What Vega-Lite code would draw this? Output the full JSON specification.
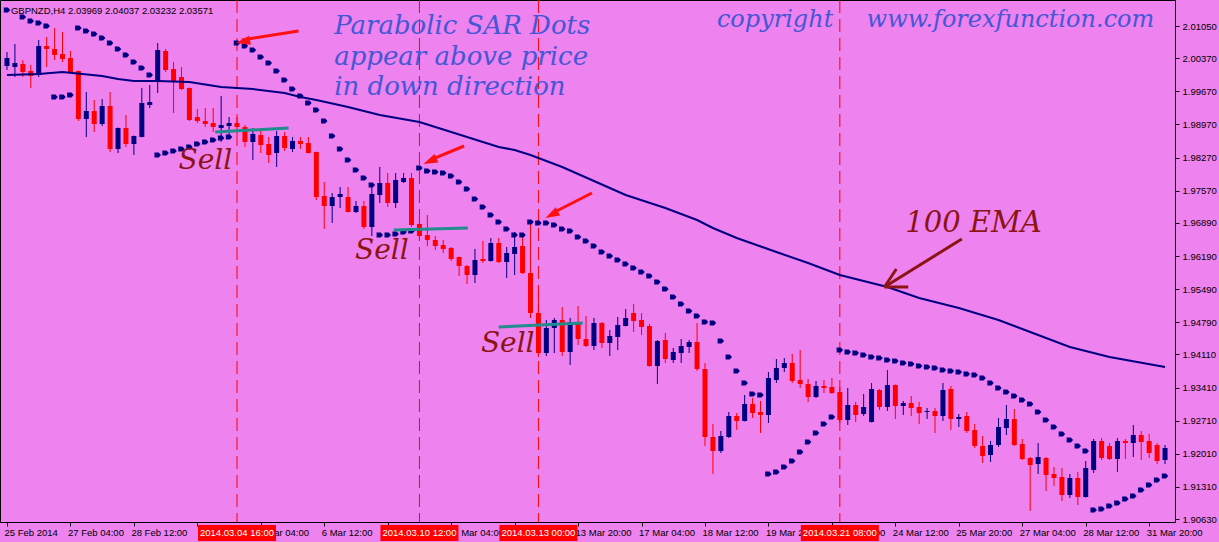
{
"$schema":"https://vega.github.io/schema/vega-lite/v6.json",
"width":1175,"height":522,
"autosize":{"type":"none"},
"padding":{"left":0,"top":0,"right":44,"bottom":20},
"background":"#EE82EE",
"config":{"view":{"stroke":"#000000","strokeWidth":1,"fill":"#EE82EE"},"axis":{"labelOverlap":false,"labelSeparation":0}},
"datasets":{
"candles":[
{"i":0,"o":2.00205,"h":2.00501,"l":2.00121,"c":2.00374},
{"i":1,"o":2.00184,"h":2.00670,"l":1.99973,"c":2.00269},
{"i":2,"o":2.00248,"h":2.00332,"l":1.99973,"c":2.00079},
{"i":3,"o":2.00100,"h":2.00227,"l":1.99741,"c":1.99994},
{"i":4,"o":2.00015,"h":2.00755,"l":1.99973,"c":2.00628},
{"i":5,"o":2.00628,"h":2.00818,"l":2.00184,"c":2.00565},
{"i":6,"o":2.00565,"h":2.01008,"l":2.00332,"c":2.00438},
{"i":7,"o":2.00459,"h":2.00924,"l":2.00290,"c":2.00353},
{"i":8,"o":2.00374,"h":2.00522,"l":2.00070,"c":2.00079},
{"i":9,"o":2.00100,"h":2.00110,"l":1.99043,"c":1.99086},
{"i":10,"o":1.99086,"h":1.99656,"l":1.98705,"c":1.99255},
{"i":11,"o":1.99255,"h":1.99487,"l":1.98811,"c":1.98980},
{"i":12,"o":1.98980,"h":1.99508,"l":1.98938,"c":1.99360},
{"i":13,"o":1.99360,"h":1.99656,"l":1.98388,"c":1.98452},
{"i":14,"o":1.98452,"h":1.98905,"l":1.98367,"c":1.98895},
{"i":15,"o":1.98895,"h":1.99170,"l":1.98494,"c":1.98557},
{"i":16,"o":1.98557,"h":1.98735,"l":1.98325,"c":1.98726},
{"i":17,"o":1.98705,"h":1.99741,"l":1.98695,"c":1.99424},
{"i":18,"o":1.99381,"h":1.99804,"l":1.99318,"c":1.99445},
{"i":19,"o":1.99867,"h":2.00691,"l":1.99635,"c":2.00543},
{"i":20,"o":2.00522,"h":2.00565,"l":2.00079,"c":2.00121},
{"i":21,"o":2.00142,"h":2.00290,"l":1.99212,"c":1.99867},
{"i":22,"o":1.99973,"h":2.00184,"l":1.99698,"c":1.99719},
{"i":23,"o":1.99741,"h":1.99750,"l":1.99043,"c":1.99064},
{"i":24,"o":1.99128,"h":1.99297,"l":1.99001,"c":1.99043},
{"i":25,"o":1.99043,"h":1.99318,"l":1.98916,"c":1.98980},
{"i":26,"o":1.99001,"h":1.99318,"l":1.98811,"c":1.98916},
{"i":27,"o":1.98895,"h":1.99572,"l":1.98600,"c":1.98959},
{"i":28,"o":1.98938,"h":1.99128,"l":1.98705,"c":1.99001},
{"i":29,"o":1.99001,"h":1.99128,"l":1.98790,"c":1.98916},
{"i":30,"o":1.98916,"h":1.98959,"l":1.98494,"c":1.98600},
{"i":31,"o":1.98600,"h":1.98895,"l":1.98219,"c":1.98769},
{"i":32,"o":1.98747,"h":1.98832,"l":1.98367,"c":1.98536},
{"i":33,"o":1.98557,"h":1.98705,"l":1.98156,"c":1.98325},
{"i":34,"o":1.98367,"h":1.98832,"l":1.98071,"c":1.98726},
{"i":35,"o":1.98726,"h":1.98811,"l":1.98409,"c":1.98473},
{"i":36,"o":1.98452,"h":1.98705,"l":1.98388,"c":1.98621},
{"i":37,"o":1.98621,"h":1.98705,"l":1.98452,"c":1.98557},
{"i":38,"o":1.98578,"h":1.98705,"l":1.98360,"c":1.98367},
{"i":39,"o":1.98388,"h":1.98395,"l":1.97374,"c":1.97437},
{"i":40,"o":1.97459,"h":1.97754,"l":1.96761,"c":1.97247},
{"i":41,"o":1.97247,"h":1.97522,"l":1.96888,"c":1.97437},
{"i":42,"o":1.97437,"h":1.97649,"l":1.97205,"c":1.97501},
{"i":43,"o":1.97437,"h":1.97649,"l":1.97110,"c":1.97120},
{"i":44,"o":1.97120,"h":1.97353,"l":1.97099,"c":1.97247},
{"i":45,"o":1.97247,"h":1.97353,"l":1.96761,"c":1.96803},
{"i":46,"o":1.96803,"h":1.97733,"l":1.96613,"c":1.97501},
{"i":47,"o":1.97480,"h":1.98071,"l":1.97311,"c":1.97733},
{"i":48,"o":1.97733,"h":1.97945,"l":1.97226,"c":1.97311},
{"i":49,"o":1.97311,"h":1.97945,"l":1.97205,"c":1.97797},
{"i":50,"o":1.97754,"h":1.97945,"l":1.97733,"c":1.97839},
{"i":51,"o":1.97839,"h":1.97945,"l":1.96803,"c":1.96846},
{"i":52,"o":1.96867,"h":1.96951,"l":1.96571,"c":1.96613},
{"i":53,"o":1.96634,"h":1.97057,"l":1.96402,"c":1.96529},
{"i":54,"o":1.96529,"h":1.96613,"l":1.96317,"c":1.96402},
{"i":55,"o":1.96423,"h":1.96529,"l":1.96254,"c":1.96339},
{"i":56,"o":1.96360,"h":1.96381,"l":1.96085,"c":1.96127},
{"i":57,"o":1.96170,"h":1.96180,"l":1.95768,"c":1.95979},
{"i":58,"o":1.95979,"h":1.96001,"l":1.95599,"c":1.95789},
{"i":59,"o":1.95789,"h":1.96339,"l":1.95620,"c":1.96106},
{"i":60,"o":1.96127,"h":1.96508,"l":1.96043,"c":1.96085},
{"i":61,"o":1.96085,"h":1.96571,"l":1.96075,"c":1.96465},
{"i":62,"o":1.96465,"h":1.96571,"l":1.96043,"c":1.96064},
{"i":63,"o":1.96064,"h":1.96381,"l":1.95726,"c":1.96254},
{"i":64,"o":1.96233,"h":1.96698,"l":1.95789,"c":1.96381},
{"i":65,"o":1.96402,"h":1.96592,"l":1.95810,"c":1.95832},
{"i":66,"o":1.95832,"h":1.96888,"l":1.94881,"c":1.94986},
{"i":67,"o":1.94986,"h":1.95451,"l":1.94057,"c":1.94141},
{"i":68,"o":1.94141,"h":1.94838,"l":1.94078,"c":1.94669},
{"i":69,"o":1.94669,"h":1.94881,"l":1.94141,"c":1.94838},
{"i":70,"o":1.94838,"h":1.95113,"l":1.94078,"c":1.94162},
{"i":71,"o":1.94162,"h":1.94881,"l":1.93888,"c":1.94796},
{"i":72,"o":1.94796,"h":1.95134,"l":1.94310,"c":1.94437},
{"i":73,"o":1.94437,"h":1.94923,"l":1.94268,"c":1.94289},
{"i":74,"o":1.94289,"h":1.94881,"l":1.94204,"c":1.94775},
{"i":75,"o":1.94775,"h":1.94796,"l":1.94247,"c":1.94352},
{"i":76,"o":1.94352,"h":1.94627,"l":1.94078,"c":1.94500},
{"i":77,"o":1.94479,"h":1.94902,"l":1.94204,"c":1.94733},
{"i":78,"o":1.94712,"h":1.95071,"l":1.94702,"c":1.94881},
{"i":79,"o":1.94986,"h":1.95176,"l":1.94585,"c":1.94817},
{"i":80,"o":1.94838,"h":1.94986,"l":1.94521,"c":1.94690},
{"i":81,"o":1.94712,"h":1.94754,"l":1.93845,"c":1.93866},
{"i":82,"o":1.93866,"h":1.94416,"l":1.93486,"c":1.94395},
{"i":83,"o":1.94416,"h":1.94564,"l":1.93930,"c":1.94014},
{"i":84,"o":1.93993,"h":1.94247,"l":1.93930,"c":1.94162},
{"i":85,"o":1.94141,"h":1.94437,"l":1.93930,"c":1.94289},
{"i":86,"o":1.94268,"h":1.94416,"l":1.94141,"c":1.94374},
{"i":87,"o":1.94374,"h":1.94775,"l":1.93761,"c":1.93803},
{"i":88,"o":1.93803,"h":1.93930,"l":1.92176,"c":1.92366},
{"i":89,"o":1.92366,"h":1.92641,"l":1.91584,"c":1.92070},
{"i":90,"o":1.92070,"h":1.92493,"l":1.92028,"c":1.92387},
{"i":91,"o":1.92366,"h":1.92894,"l":1.92345,"c":1.92810},
{"i":92,"o":1.92810,"h":1.92873,"l":1.92514,"c":1.92704},
{"i":93,"o":1.92704,"h":1.93254,"l":1.92694,"c":1.93063},
{"i":94,"o":1.93063,"h":1.93190,"l":1.92768,"c":1.92873},
{"i":95,"o":1.92894,"h":1.93127,"l":1.92451,"c":1.92831},
{"i":96,"o":1.92831,"h":1.93740,"l":1.92662,"c":1.93613},
{"i":97,"o":1.93571,"h":1.94014,"l":1.93507,"c":1.93824},
{"i":98,"o":1.93824,"h":1.94035,"l":1.93740,"c":1.93930},
{"i":99,"o":1.93930,"h":1.94120,"l":1.93507,"c":1.93549},
{"i":100,"o":1.93571,"h":1.94204,"l":1.93402,"c":1.93486},
{"i":101,"o":1.93486,"h":1.93592,"l":1.93106,"c":1.93211},
{"i":102,"o":1.93211,"h":1.93549,"l":1.93190,"c":1.93444},
{"i":103,"o":1.93444,"h":1.93571,"l":1.93296,"c":1.93402},
{"i":104,"o":1.93423,"h":1.93613,"l":1.93275,"c":1.93296},
{"i":105,"o":1.93317,"h":1.93423,"l":1.92662,"c":1.92725},
{"i":106,"o":1.92725,"h":1.93402,"l":1.92620,"c":1.93042},
{"i":107,"o":1.93042,"h":1.93106,"l":1.92683,"c":1.92831},
{"i":108,"o":1.92852,"h":1.93275,"l":1.92810,"c":1.93000},
{"i":109,"o":1.92683,"h":1.93507,"l":1.92673,"c":1.93380},
{"i":110,"o":1.93359,"h":1.93380,"l":1.92937,"c":1.93000},
{"i":111,"o":1.93000,"h":1.93782,"l":1.92916,"c":1.93465},
{"i":112,"o":1.93465,"h":1.93475,"l":1.92747,"c":1.93021},
{"i":113,"o":1.93021,"h":1.93127,"l":1.92831,"c":1.93085},
{"i":114,"o":1.93085,"h":1.93233,"l":1.92810,"c":1.92979},
{"i":115,"o":1.93000,"h":1.93106,"l":1.92641,"c":1.92873},
{"i":116,"o":1.92894,"h":1.92979,"l":1.92747,"c":1.92916},
{"i":117,"o":1.92916,"h":1.92979,"l":1.92451,"c":1.92810},
{"i":118,"o":1.92810,"h":1.93507,"l":1.92704,"c":1.93359},
{"i":119,"o":1.93380,"h":1.93444,"l":1.92514,"c":1.92747},
{"i":120,"o":1.92747,"h":1.92852,"l":1.92577,"c":1.92789},
{"i":121,"o":1.92810,"h":1.92894,"l":1.92451,"c":1.92493},
{"i":122,"o":1.92514,"h":1.92641,"l":1.92134,"c":1.92176},
{"i":123,"o":1.92176,"h":1.92387,"l":1.91817,"c":1.91965},
{"i":124,"o":1.91986,"h":1.92282,"l":1.91838,"c":1.92197},
{"i":125,"o":1.92197,"h":1.92768,"l":1.92155,"c":1.92577},
{"i":126,"o":1.92556,"h":1.93042,"l":1.92408,"c":1.92747},
{"i":127,"o":1.92747,"h":1.92958,"l":1.92176,"c":1.92197},
{"i":128,"o":1.92218,"h":1.92324,"l":1.91880,"c":1.91901},
{"i":129,"o":1.91922,"h":1.91944,"l":1.90803,"c":1.91775},
{"i":130,"o":1.91796,"h":1.92239,"l":1.91584,"c":1.91944},
{"i":131,"o":1.91922,"h":1.91944,"l":1.91225,"c":1.91563},
{"i":132,"o":1.91584,"h":1.91732,"l":1.91331,"c":1.91500},
{"i":133,"o":1.91521,"h":1.91711,"l":1.91014,"c":1.91141},
{"i":134,"o":1.91141,"h":1.91584,"l":1.91077,"c":1.91500},
{"i":135,"o":1.91500,"h":1.91627,"l":1.90929,"c":1.91098},
{"i":136,"o":1.91098,"h":1.91859,"l":1.91088,"c":1.91711},
{"i":137,"o":1.91669,"h":1.92324,"l":1.91606,"c":1.92282},
{"i":138,"o":1.92282,"h":1.92345,"l":1.91880,"c":1.91922},
{"i":139,"o":1.92176,"h":1.92239,"l":1.91880,"c":1.91901},
{"i":140,"o":1.91901,"h":1.92345,"l":1.91627,"c":1.92282},
{"i":141,"o":1.92282,"h":1.92324,"l":1.91901,"c":1.92239},
{"i":142,"o":1.92239,"h":1.92620,"l":1.91944,"c":1.92408},
{"i":143,"o":1.92408,"h":1.92493,"l":1.91880,"c":1.92261},
{"i":144,"o":1.92282,"h":1.92430,"l":1.91922,"c":1.92028},
{"i":145,"o":1.92197,"h":1.92239,"l":1.91796,"c":1.91859},
{"i":146,"o":1.91880,"h":1.92197,"l":1.91796,"c":1.92134}
],
"sar":[
{"i":0,"v":2.01389},{"i":2,"v":2.01241},{"i":3,"v":2.01156},{"i":4,"v":2.01114},{"i":5,"v":2.01051},
{"i":6,"v":1.99550},{"i":7,"v":1.99550},{"i":8,"v":1.99593},
{"i":9,"v":2.01008},{"i":10,"v":2.00945},{"i":11,"v":2.00882},{"i":12,"v":2.00797},{"i":13,"v":2.00691},{"i":14,"v":2.00565},{"i":15,"v":2.00438},{"i":16,"v":2.00290},{"i":17,"v":2.00163},{"i":18,"v":2.00015},
{"i":19,"v":1.98325},{"i":20,"v":1.98367},{"i":21,"v":1.98409},{"i":22,"v":1.98452},{"i":23,"v":1.98494},{"i":24,"v":1.98557},{"i":25,"v":1.98600},{"i":26,"v":1.98642},{"i":27,"v":1.98684},{"i":28,"v":1.98705},
{"i":29,"v":2.00691},{"i":30,"v":2.00628},{"i":31,"v":2.00543},{"i":32,"v":2.00396},{"i":33,"v":2.00269},{"i":34,"v":2.00100},{"i":35,"v":1.99910},{"i":36,"v":1.99719},{"i":37,"v":1.99572},{"i":38,"v":1.99424},{"i":39,"v":1.99276},{"i":40,"v":1.99043},{"i":41,"v":1.98726},{"i":42,"v":1.98452},{"i":43,"v":1.98219},{"i":44,"v":1.98008},{"i":45,"v":1.97839},{"i":46,"v":1.97691},
{"i":47,"v":1.96634},{"i":48,"v":1.96634},{"i":49,"v":1.96656},{"i":50,"v":1.96698},{"i":51,"v":1.96719},
{"i":52,"v":1.98050},{"i":53,"v":1.97987},{"i":54,"v":1.97966},{"i":55,"v":1.97945},{"i":56,"v":1.97881},{"i":57,"v":1.97754},{"i":58,"v":1.97606},{"i":59,"v":1.97395},{"i":60,"v":1.97226},{"i":61,"v":1.97057},{"i":62,"v":1.96909},{"i":63,"v":1.96761},{"i":64,"v":1.96634},{"i":65,"v":1.96634},
{"i":66,"v":1.96909},{"i":67,"v":1.96888},{"i":68,"v":1.96888},{"i":69,"v":1.96846},{"i":70,"v":1.96761},{"i":71,"v":1.96719},{"i":72,"v":1.96592},{"i":73,"v":1.96508},{"i":74,"v":1.96402},{"i":75,"v":1.96275},{"i":76,"v":1.96191},{"i":77,"v":1.96106},{"i":78,"v":1.96022},{"i":79,"v":1.95937},{"i":80,"v":1.95853},{"i":81,"v":1.95768},{"i":82,"v":1.95641},{"i":83,"v":1.95493},{"i":84,"v":1.95324},{"i":85,"v":1.95176},{"i":86,"v":1.95029},{"i":87,"v":1.94923},{"i":88,"v":1.94796},{"i":89,"v":1.94775},{"i":90,"v":1.94395},{"i":91,"v":1.94057},{"i":92,"v":1.93761},{"i":93,"v":1.93507},{"i":94,"v":1.93275},{"i":95,"v":1.93254},
{"i":96,"v":1.91584},{"i":97,"v":1.91627},{"i":98,"v":1.91732},{"i":99,"v":1.91859},{"i":100,"v":1.92049},{"i":101,"v":1.92261},{"i":102,"v":1.92451},{"i":103,"v":1.92641},{"i":104,"v":1.92789},
{"i":105,"v":1.94204},{"i":106,"v":1.94162},{"i":107,"v":1.94141},{"i":108,"v":1.94099},{"i":109,"v":1.94057},{"i":110,"v":1.94035},{"i":111,"v":1.93993},{"i":112,"v":1.93972},{"i":113,"v":1.93930},{"i":114,"v":1.93909},{"i":115,"v":1.93866},{"i":116,"v":1.93845},{"i":117,"v":1.93824},{"i":118,"v":1.93782},{"i":119,"v":1.93761},{"i":120,"v":1.93740},{"i":121,"v":1.93697},{"i":122,"v":1.93676},{"i":123,"v":1.93613},{"i":124,"v":1.93507},{"i":125,"v":1.93402},{"i":126,"v":1.93317},{"i":127,"v":1.93233},{"i":128,"v":1.93148},{"i":129,"v":1.93063},{"i":130,"v":1.92894},{"i":131,"v":1.92725},{"i":132,"v":1.92577},{"i":133,"v":1.92430},{"i":134,"v":1.92303},{"i":135,"v":1.92176},{"i":136,"v":1.92070},
{"i":137,"v":1.90824},{"i":138,"v":1.90845},{"i":139,"v":1.90908},{"i":140,"v":1.90972},{"i":141,"v":1.91056},{"i":142,"v":1.91120},{"i":143,"v":1.91246},{"i":144,"v":1.91352},{"i":145,"v":1.91458},{"i":146,"v":1.91542}
],
"ema":[
{"i":0,"v":2.00015},{"i":4,"v":2.00036},{"i":7,"v":2.00079},{"i":12,"v":1.99994},{"i":14,"v":1.99931},{"i":16,"v":1.99888},{"i":19,"v":1.99888},{"i":23,"v":1.99867},{"i":27,"v":1.99762},{"i":31,"v":1.99719},{"i":35,"v":1.99635},{"i":37,"v":1.99550},{"i":39,"v":1.99487},{"i":43,"v":1.99339},{"i":47,"v":1.99170},{"i":52,"v":1.99022},{"i":56,"v":1.98811},{"i":60,"v":1.98600},{"i":62,"v":1.98494},{"i":64,"v":1.98430},{"i":66,"v":1.98325},{"i":70,"v":1.98071},{"i":74,"v":1.97775},{"i":78,"v":1.97480},{"i":83,"v":1.97205},{"i":87,"v":1.96951},{"i":89,"v":1.96782},{"i":92,"v":1.96571},{"i":97,"v":1.96275},{"i":101,"v":1.96043},{"i":105,"v":1.95789},{"i":111,"v":1.95536},{"i":115,"v":1.95303},{"i":120,"v":1.95092},{"i":125,"v":1.94838},{"i":129,"v":1.94585},{"i":134,"v":1.94268},{"i":139,"v":1.94057},{"i":146,"v":1.93845}
],
"vlines":[
{"i":29,"t":"2014.03.04 16:00"},{"i":52,"t":"2014.03.10 12:00"},{"i":67,"t":"2014.03.13 00:00"},{"i":105,"t":"2014.03.21 08:00"}
],
"teal":[
{"a":26.25,"pa":1.98811,"b":35.5,"pb":1.98895},
{"a":48.75,"pa":1.96740,"b":58.1,"pb":1.96782},
{"a":62.0,"pa":1.94690,"b":72.6,"pb":1.94775}
],
"redarrows":[
{"a":36.75,"pa":2.00945,"b":29.6,"pb":2.00755},
{"a":57.625,"pa":1.98515,"b":53.4,"pb":1.98220},
{"a":73.75,"pa":1.97522,"b":68.8,"pb":1.97100}
],
"emaarrow":[
{"a":120.375,"pa":1.96550,"b":110.625,"pb":1.95536},
{"a":112.125,"pa":1.95916,"b":110.625,"pb":1.95536},
{"a":113.625,"pa":1.95536,"b":110.625,"pb":1.95536}
]
},
"layer":[
{"data":{"name":"candles"},
 "mark":{"type":"rule","strokeWidth":1},
 "encoding":{
  "x":{"field":"i","type":"quantitative","title":null,"scale":{"domain":[-0.25,146.625],"nice":false,"zero":false},
   "axis":{"orient":"bottom","values":[0,8,16,24,32,40,48,56,64,72,80,88,96,104,112,120,128,136,144],"tickCount":30,
    "labelExpr":"['25 Feb 2014','27 Feb 04:00','28 Feb 12:00','','5 Mar 04:00','6 Mar 12:00','','11 Mar 04:00','','13 Mar 20:00','17 Mar 04:00','18 Mar 12:00','19 Mar 20:00','21 Mar 04:00','24 Mar 12:00','25 Mar 20:00','27 Mar 04:00','28 Mar 12:00','31 Mar 20:00'][round(datum.value/8)]",
    "labelAlign":"left","labelBaseline":"top","labelPadding":1,"labelOffset":-3,"tickSize":4,"tickColor":"#000000","domain":false,"grid":false,
    "labelFont":"Liberation Sans","labelFontSize":9.5,"labelColor":"#000000","labelOverlap":false,"labelBound":false,"labelFlush":false,"zindex":0}},
  "y":{"field":"l","type":"quantitative","title":null,"scale":{"domain":[1.9057,2.016],"nice":false,"zero":false},
   "axis":{"orient":"right","values":[2.0105,2.0037,1.9967,1.9897,1.9827,1.9757,1.9689,1.9619,1.9549,1.9479,1.9411,1.9341,1.9271,1.9201,1.9131,1.9063],"tickCount":20,
    "format":".5f","tickSize":4,"tickColor":"#000000","labelPadding":3,"domain":false,"grid":false,
    "labelFont":"Liberation Sans","labelFontSize":9.5,"labelColor":"#000000","labelAlign":"left","labelBaseline":"middle","labelOverlap":false,"labelSeparation":0,"labelBound":false,"labelFlush":false,"zindex":0}},
  "y2":{"field":"h"},
  "color":{"condition":{"test":"datum.c >= datum.o","value":"#000080"},"value":"#FF0000"}
 }},
{"data":{"name":"candles"},
 "mark":{"type":"bar","width":5},
 "encoding":{
  "x":{"field":"i","type":"quantitative","title":null},
  "y":{"field":"o","type":"quantitative","title":null},
  "y2":{"field":"c"},
  "color":{"condition":{"test":"datum.c >= datum.o","value":"#000080"},"value":"#FF0000"}
 }},
{"data":{"name":"vlines"},
 "mark":{"type":"rule","color":"#FF0000","strokeWidth":1,"strokeDash":[13,6]},
 "encoding":{"x":{"field":"i","type":"quantitative","title":null}}},
{"data":{"name":"ema"},
 "mark":{"type":"line","color":"#000080","strokeWidth":2},
 "encoding":{"x":{"field":"i","type":"quantitative","title":null},"y":{"field":"v","type":"quantitative","title":null}}},
{"data":{"name":"sar"},
 "mark":{"type":"point","filled":true,"opacity":1,"color":"#000080","size":42,"shape":"M-1,-0.8L0.3,-0.8L1,0L0.3,0.8L-1,0.8Z"},
 "encoding":{"x":{"field":"i","type":"quantitative","title":null},"y":{"field":"v","type":"quantitative","title":null}}},
{"data":{"name":"teal"},
 "mark":{"type":"rule","color":"#208C8C","strokeWidth":3},
 "encoding":{"x":{"field":"a","type":"quantitative","title":null},"x2":{"field":"b"},"y":{"field":"pa","type":"quantitative","title":null},"y2":{"field":"pb"}}},
{"data":{"name":"redarrows"},
 "mark":{"type":"rule","color":"#FF1010","strokeWidth":3},
 "encoding":{"x":{"field":"a","type":"quantitative","title":null},"x2":{"field":"b"},"y":{"field":"pa","type":"quantitative","title":null},"y2":{"field":"pb"}}},
{"data":{"values":[{"i":28.875,"p":2.00691}]},
 "mark":{"type":"point","filled":true,"opacity":1,"color":"#FF1010","size":120,"angle":-11,"shape":"M0,0L2.6,-0.85L2.6,0.85Z"},
 "encoding":{"x":{"field":"i","type":"quantitative","title":null},"y":{"field":"p","type":"quantitative","title":null}}},
{"data":{"values":[{"i":52.5,"p":1.98135}]},
 "mark":{"type":"point","filled":true,"opacity":1,"color":"#FF1010","size":120,"angle":-24,"shape":"M0,0L2.6,-0.85L2.6,0.85Z"},
 "encoding":{"x":{"field":"i","type":"quantitative","title":null},"y":{"field":"p","type":"quantitative","title":null}}},
{"data":{"values":[{"i":67.875,"p":1.96994}]},
 "mark":{"type":"point","filled":true,"opacity":1,"color":"#FF1010","size":120,"angle":-28,"shape":"M0,0L2.6,-0.85L2.6,0.85Z"},
 "encoding":{"x":{"field":"i","type":"quantitative","title":null},"y":{"field":"p","type":"quantitative","title":null}}},
{"data":{"name":"emaarrow"},
 "mark":{"type":"rule","color":"#8B1414","strokeWidth":3},
 "encoding":{"x":{"field":"a","type":"quantitative","title":null},"x2":{"field":"b"},"y":{"field":"pa","type":"quantitative","title":null},"y2":{"field":"pb"}}},
{"data":{"values":[{"i":41.25,"p":2.00882,"t":"Parabolic SAR Dots"},{"i":41.25,"p":2.00227,"t":"appear above price"},{"i":41.25,"p":1.99593,"t":"in  down direction"}]},
 "mark":{"type":"text","font":"DejaVu Serif","fontStyle":"italic","fontSize":26,"color":"#4557D6","align":"left","baseline":"alphabetic"},
 "encoding":{"x":{"field":"i","type":"quantitative","title":null},"y":{"field":"p","type":"quantitative","title":null},"text":{"field":"t"}}},
{"data":{"values":[{"i":89.5,"p":2.0103,"t":"copyright"},{"i":108.375,"p":2.0103,"t":"www.forexfunction.com"}]},
 "mark":{"type":"text","font":"DejaVu Serif","fontStyle":"italic","fontSize":24,"color":"#4557D6","align":"left","baseline":"alphabetic"},
 "encoding":{"x":{"field":"i","type":"quantitative","title":null},"y":{"field":"p","type":"quantitative","title":null},"text":{"field":"t"}}},
{"data":{"values":[{"i":21.625,"p":1.98029,"t":"Sell"},{"i":43.875,"p":1.96127,"t":"Sell"},{"i":59.75,"p":1.94162,"t":"Sell"}]},
 "mark":{"type":"text","font":"DejaVu Serif","fontStyle":"italic","fontSize":28,"color":"#8B1414","align":"left","baseline":"alphabetic"},
 "encoding":{"x":{"field":"i","type":"quantitative","title":null},"y":{"field":"p","type":"quantitative","title":null},"text":{"field":"t"}}},
{"data":{"values":[{"i":113.25,"p":1.96698,"t":"100 EMA"}]},
 "mark":{"type":"text","font":"DejaVu Serif","fontStyle":"italic","fontSize":29,"color":"#8B1414","align":"left","baseline":"alphabetic"},
 "encoding":{"x":{"field":"i","type":"quantitative","title":null},"y":{"field":"p","type":"quantitative","title":null},"text":{"field":"t"}}},
{"data":{"values":[{"i":0.5,"p":2.01304,"t":"GBPNZD,H4  2.03969 2.04037 2.03232 2.03571"}]},
 "mark":{"type":"text","font":"Liberation Sans","fontSize":9.5,"color":"#000000","align":"left","baseline":"alphabetic"},
 "encoding":{"x":{"field":"i","type":"quantitative","title":null},"y":{"field":"p","type":"quantitative","title":null},"text":{"field":"t"}}},
{"data":{"name":"vlines"},
 "mark":{"type":"bar","width":78,"color":"#FF0000"},
 "encoding":{"x":{"field":"i","type":"quantitative","title":null},"y":{"datum":1.90507},"y2":{"datum":1.90169}}},
{"data":{"name":"vlines"},
 "mark":{"type":"text","font":"Liberation Sans","fontSize":9.5,"color":"#FFFFFF","align":"center","baseline":"middle"},
 "encoding":{"x":{"field":"i","type":"quantitative","title":null},"y":{"datum":1.90338},"text":{"field":"t"}}}
]
}
